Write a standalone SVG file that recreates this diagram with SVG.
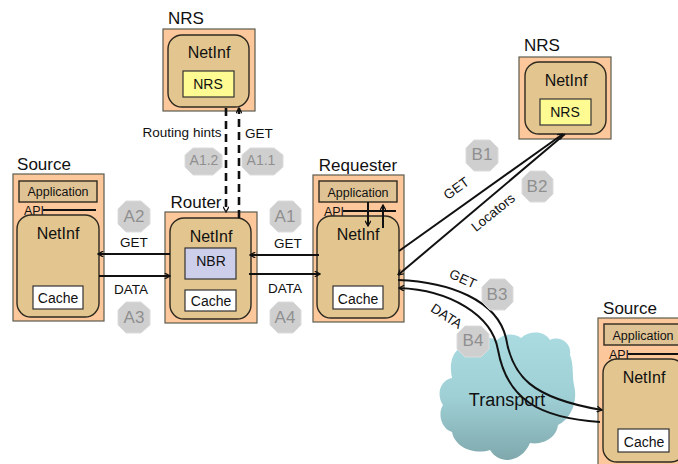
<svg xmlns="http://www.w3.org/2000/svg" width="678" height="464" viewBox="0 0 678 464">
<style>
text{font-family:"Liberation Sans",Arial,sans-serif;fill:#111;text-anchor:middle}
.box{fill:#fcc79a;stroke:#5c5c50;stroke-width:1.2}
.ni{fill:#e3c68f;stroke:#2e2a20;stroke-width:1.4}
.app{fill:#e0c395;stroke:#2e2a20;stroke-width:1.4}
.cache{fill:#fff;stroke:#333;stroke-width:1.2}
.t{font-size:16px}.s{font-size:14px}.l{font-size:13.5px}.h{font-size:17px}
.wire{fill:none;stroke:#111;stroke-width:2}
.wt{fill:none;stroke:#111;stroke-width:1.6}
.dash{fill:none;stroke:#111;stroke-width:2.6;stroke-dasharray:8 5}
.oct{fill:#cfcfcf;stroke:#dcdcdc;stroke-width:1}
.ot{font-size:17px;fill:#8f8f8f}
.ots{font-size:14px;fill:#8f8f8f}
</style>
<defs>
<marker id="a" viewBox="0 0 10 10" refX="9" refY="5" markerWidth="6.5" markerHeight="6.5" markerUnits="userSpaceOnUse" orient="auto-start-reverse"><path d="M1 0.5L9 5L1 9.5" fill="none" stroke="#111" stroke-width="2"/></marker>
<linearGradient id="cl" x1="0" y1="0" x2="0" y2="1"><stop offset="0" stop-color="#aadbe1"/><stop offset="0.5" stop-color="#9fd0d6"/><stop offset="1" stop-color="#7fa8ac"/></linearGradient>
<radialGradient id="og" cx="0.5" cy="0.4" r="0.7"><stop offset="0" stop-color="#dcdcdc"/><stop offset="1" stop-color="#c4c4c4"/></radialGradient>
</defs>
<g id="cloud"><path fill="url(#cl)" d="M497 340C505 332 516 334 521 338C530 330 545 331 550 340C560 335 572 343 570 355C574 365 572 375 574 385C578 400 572 418 558 425C556 440 540 445 530 443C522 462 500 466 490 450C475 455 455 448 452 432C440 428 438 412 443 405C436 395 440 380 452 378C448 360 455 345 470 345C480 338 490 336 497 340Z"/></g>
<g id="nrs1"><text class="h" x="186" y="24">NRS</text><rect class="box" x="163" y="29" width="92" height="82"/><rect class="ni" x="168" y="35" width="81" height="72" rx="14"/><text class="t" x="209" y="58">NetInf</text><rect x="183" y="71" width="51" height="26" fill="#fdfb92" stroke="#333" stroke-width="1.2"/><text class="s" x="208" y="89">NRS</text></g>
<g id="nrs2"><text class="h" x="542" y="51">NRS</text><rect class="box" x="519" y="57" width="92" height="82"/><rect class="ni" x="525" y="62" width="81" height="72" rx="14"/><text class="t" x="566" y="86">NetInf</text><rect x="540" y="99" width="51" height="26" fill="#fdfb92" stroke="#333" stroke-width="1.2"/><text class="s" x="565" y="117">NRS</text></g>
<g id="source1"><text class="h" x="44" y="170">Source</text><rect class="box" x="13" y="174" width="91" height="147"/><rect class="app" x="19" y="181" width="78" height="21"/><text x="58" y="196" font-size="12.5">Application</text><text x="34" y="215" font-size="12.5">API</text><path d="M43 210H96" class="wire"/><rect class="ni" x="17" y="215" width="82" height="102" rx="14"/><text class="t" x="58" y="239">NetInf</text><rect class="cache" x="33" y="286" width="50" height="23"/><text class="s" x="58" y="303">Cache</text></g>
<g id="router"><text class="h" x="196" y="208">Router</text><rect class="box" x="165" y="212" width="92" height="111"/><rect class="ni" x="170" y="218" width="81" height="101" rx="14"/><text class="t" x="211" y="242">NetInf</text><rect x="185" y="248" width="51" height="31" fill="#cdcfea" stroke="#333" stroke-width="1.2"/><text class="s" x="211" y="266">NBR</text><rect class="cache" x="185" y="290" width="51" height="21"/><text class="s" x="211" y="306">Cache</text></g>
<g id="requester"><text class="h" x="358" y="171">Requester</text><rect class="box" x="313" y="175" width="91" height="147"/><rect class="app" x="319" y="181" width="78" height="21"/><text x="358" y="197" font-size="12.5">Application</text><text x="334" y="216" font-size="12.5">API</text><path d="M343 211H396" class="wire"/><rect class="ni" x="317" y="216" width="82" height="102" rx="14"/><text class="t" x="358" y="240">NetInf</text><rect class="cache" x="333" y="286" width="50" height="23"/><text class="s" x="358" y="304">Cache</text></g>
<g id="source2"><text class="h" x="630" y="314">Source</text><rect class="box" x="598" y="318" width="90" height="150"/><rect class="app" x="604" y="324" width="78" height="21"/><text x="643" y="340" font-size="12.5">Application</text><text x="619" y="359" font-size="12.5">API</text><path d="M628 354H680" class="wire"/><rect class="ni" x="603" y="359" width="82" height="103" rx="14"/><text class="t" x="644" y="383">NetInf</text><rect class="cache" x="618" y="429" width="51" height="23"/><text class="s" x="644" y="447">Cache</text></g>
<g id="connectors">
<path class="dash" d="M226 108V212" marker-end="url(#a)"/>
<path class="dash" d="M239 218V108" marker-end="url(#a)"/>
<path class="wire" d="M170 254H98" marker-end="url(#a)"/>
<path class="wire" d="M99 276H170" marker-end="url(#a)"/>
<path class="wire" d="M319 255H250" marker-end="url(#a)"/>
<path class="wire" d="M249 274H320" marker-end="url(#a)"/>
<path class="wire" d="M368 202V226" marker-end="url(#a)"/>
<path class="wire" d="M383 228V205" marker-end="url(#a)"/>
<path class="wire" d="M399 251L563 134" marker-end="url(#a)"/>
<path class="wire" d="M565 134L398 275" marker-end="url(#a)"/>
<path class="wire" d="M398 280C450 282 497 300 506 338C512 375 530 398 602 410" marker-end="url(#a)"/>
<path class="wire" d="M600 422C540 418 507 400 498 350C492 315 450 290 399 288" marker-end="url(#a)"/>
</g>
<g id="labels">
<text class="l" x="182" y="137">Routing hints</text><text class="l" x="259" y="138">GET</text>
<text class="l" x="134" y="247">GET</text><text class="l" x="131" y="294">DATA</text>
<text class="l" x="288" y="248">GET</text><text class="l" x="285" y="293">DATA</text>
<text class="l" transform="translate(459 192) rotate(-36)">GET</text>
<text class="l" transform="translate(496 216) rotate(-39)">Locators</text>
<text class="l" transform="translate(461 283) rotate(24)">GET</text>
<text class="l" transform="translate(444 320) rotate(33)">DATA</text>
<text x="507 " y="406" font-size="18">Transport</text>
</g>
<g id="badges">
<g><path class="oct" d="M193 148H213L222 155V167L213 175H193L185 167V155Z" fill="url(#og)"/><text class="ots" x="204" y="165">A1.2</text></g>
<g><path class="oct" d="M250 148H274L283 155V167L274 175H250L242 167V155Z"/><text class="ots" x="261" y="165">A1.1</text></g>
<g><path class="oct" d="M126 201H141L150 209V224L141 232H126L118 224V209Z"/><text class="ot" x="134" y="222">A2</text></g>
<g><path class="oct" d="M126 302H141L150 310V325L141 333H126L118 325V310Z"/><text class="ot" x="134" y="323">A3</text></g>
<g><path class="oct" d="M278 201H293L301 209V224L293 232H278L270 224V209Z"/><text class="ot" x="285" y="222">A1</text></g>
<g><path class="oct" d="M278 302H293L301 310V325L293 333H278L270 325V310Z"/><text class="ot" x="285" y="323">A4</text></g>
<g><path class="oct" d="M474 140H490L498 148V163L490 171H474L466 163V148Z"/><text class="ot" x="482" y="160">B1</text></g>
<g><path class="oct" d="M530 171H545L553 179V194L545 202H530L522 194V179Z"/><text class="ot" x="537" y="192">B2</text></g>
<g><path class="oct" d="M490 279H505L513 287V302L505 310H490L482 302V287Z"/><text class="ot" x="497" y="300">B3</text></g>
<g><path class="oct" d="M465 326H481L489 334V349L481 357H465L457 349V334Z"/><text class="ot" x="473" y="346">B4</text></g>
</g>
</svg>
